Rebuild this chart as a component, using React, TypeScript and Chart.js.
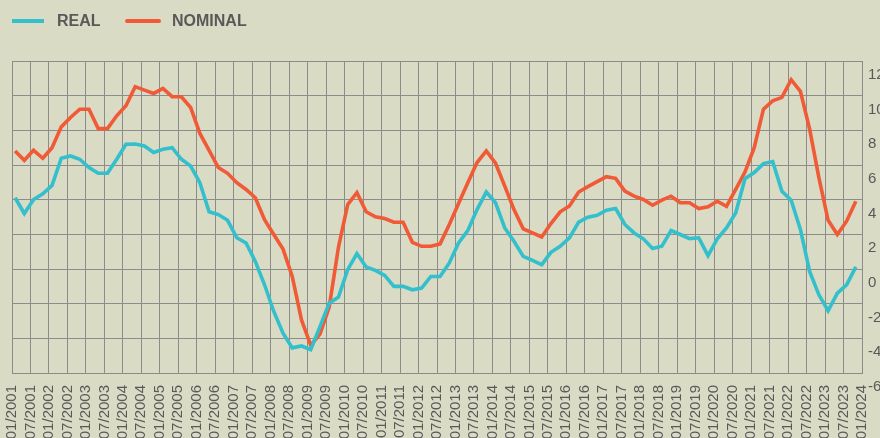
import React, { useEffect, useRef } from "react";
import { Chart, registerables } from "chart.js";

Chart.register(...registerables);

// X-axis tick labels (every half year)
const tickLabels = [
  "01/2001", "07/2001", "01/2002", "07/2002", "01/2003", "07/2003", "01/2004", "07/2004",
  "01/2005", "07/2005", "01/2006", "07/2006", "01/2007", "07/2007", "01/2008", "07/2008",
  "01/2009", "07/2009", "01/2010", "07/2010", "01/2011", "07/2011", "01/2012", "07/2012",
  "01/2013", "07/2013", "01/2014", "07/2014", "01/2015", "07/2015", "01/2016", "07/2016",
  "01/2017", "07/2017", "01/2018", "07/2018", "01/2019", "07/2019", "01/2020", "07/2020",
  "01/2021", "07/2021", "01/2022", "07/2022", "01/2023", "07/2023", "01/2024",
];

// Quarterly observations 2001 Q1 .. 2023 Q4
const pointMonthOffset = 1; // each quarterly point is placed one month into its quarter

const realValues = [
  4.11, 3.2, 4.01, 4.34, 4.82, 6.39, 6.52, 6.33, 5.85, 5.52,
  5.52, 6.33, 7.2, 7.21, 7.1, 6.72, 6.91, 7.0, 6.33, 5.94,
  4.98, 3.3, 3.14, 2.81, 1.8, 1.5, 0.44, -0.91, -2.45, -3.7,
  -4.55, -4.44, -4.65, -3.32, -1.97, -1.62, -0.04, 0.89, 0.12, -0.08,
  -0.37, -1.0, -1.0, -1.2, -1.1, -0.43, -0.43, 0.35, 1.5, 2.22,
  3.43, 4.44, 3.82, 2.37, 1.6, 0.73, 0.5, 0.25, 0.96, 1.31,
  1.8, 2.7, 2.99, 3.1, 3.39, 3.49, 2.57, 2.08, 1.74, 1.18,
  1.31, 2.22, 1.99, 1.75, 1.8, 0.77, 1.74, 2.37, 3.24, 5.21,
  5.56, 6.08, 6.2, 4.49, 3.97, 2.28, -0.14, -1.49, -2.41, -1.39,
  -0.91, 0.12,
];

const nominalValues = [
  6.81, 6.27, 6.85, 6.39, 7.0, 8.2, 8.74, 9.22, 9.22, 8.1,
  8.1, 8.84, 9.42, 10.52, 10.32, 10.13, 10.42, 9.94, 9.94, 9.32,
  7.82, 6.85, 5.85, 5.52, 4.98, 4.59, 4.11, 2.85, 1.99, 1.15,
  -0.43, -2.94, -4.4, -3.75, -2.2, 1.25, 3.72, 4.4, 3.3, 3.01,
  2.91, 2.7, 2.7, 1.54, 1.31, 1.31, 1.45, 2.57, 3.78, 4.98,
  6.14, 6.81, 6.1, 4.78, 3.43, 2.32, 2.08, 1.85, 2.62, 3.3,
  3.64, 4.44, 4.75, 5.04, 5.33, 5.23, 4.49, 4.2, 4.01, 3.68,
  3.97, 4.2, 3.82, 3.82, 3.49, 3.59, 3.91, 3.62, 4.59, 5.59,
  7.0, 9.22, 9.7, 9.9, 10.92, 10.25, 8.07, 5.27, 2.81, 1.99,
  2.76, 3.91,
];

const seriesNames = ["REAL", "NOMINAL"];
const REAL_COLOR = "#33c0cc";
const NOMINAL_COLOR = "#f05a37";
const BG = "#d9dbc4";
const GRID = "#8c8c8c";
const TEXT = "#595959";
const FONT = "'Liberation Sans', Arial, Helvetica, sans-serif";

// x in half-year units since 01/2001
const toPoints = (vals: number[]) =>
  vals.map((v, i) => ({ x: (i * 3 + pointMonthOffset) / 6, y: v }));

const legendPlugin = {
  id: "customLegend",
  afterDraw(chart: any) {
    const ctx = chart.ctx as CanvasRenderingContext2D;
    const items = [
      { text: seriesNames[0], color: REAL_COLOR, x0: 12, x1: 44, tx: 57, cap: "butt" },
      { text: seriesNames[1], color: NOMINAL_COLOR, x0: 127, x1: 159, tx: 172, cap: "round" },
    ];
    ctx.save();
    ctx.font = `bold 16px ${FONT}`;
    ctx.textBaseline = "alphabetic";
    ctx.textAlign = "left";
    items.forEach((it) => {
      ctx.beginPath();
      ctx.strokeStyle = it.color;
      ctx.lineWidth = 4;
      ctx.lineCap = it.cap as CanvasLineCap;
      ctx.moveTo(it.x0, 21);
      ctx.lineTo(it.x1, 21);
      ctx.stroke();
      ctx.fillStyle = TEXT;
      ctx.fillText(it.text, it.tx, 26);
    });
    ctx.restore();
  },
};

export default function App() {
  const ref = useRef<HTMLCanvasElement | null>(null);

  useEffect(() => {
    if (!ref.current) return;
    const chart = new Chart(ref.current, {
      type: "line",
      data: {
        datasets: [
          {
            label: seriesNames[0],
            data: toPoints(realValues),
            borderColor: REAL_COLOR,
            backgroundColor: REAL_COLOR,
            borderWidth: 3.6,
            pointRadius: 0,
            tension: 0,
          },
          {
            label: seriesNames[1],
            data: toPoints(nominalValues),
            borderColor: NOMINAL_COLOR,
            backgroundColor: NOMINAL_COLOR,
            borderWidth: 3.6,
            pointRadius: 0,
            tension: 0,
          },
        ],
      },
      options: {
        responsive: false,
        animation: false,
        devicePixelRatio: 1,
        layout: { padding: { top: 61, left: 12, right: 0, bottom: 0 } },
        plugins: {
          legend: { display: false },
          tooltip: { enabled: false },
        },
        scales: {
          x: {
            type: "linear",
            min: 0,
            max: tickLabels.length - 1,
            afterFit: (s: any) => {
              s.height = 65;
              s.paddingLeft = 0;
              s.paddingRight = 0;
            },
            grid: { color: GRID, lineWidth: 1, drawTicks: false },
            border: { display: true, color: GRID, width: 1 },
            ticks: {
              stepSize: 1,
              autoSkip: false,
              maxRotation: 90,
              minRotation: 90,
              padding: 12,
              color: TEXT,
              font: { family: FONT, size: 15 },
              callback: (_v: any, i: number) => tickLabels[i] ?? "",
            },
          },
          y: {
            position: "right",
            min: -6,
            max: 12,
            afterFit: (s: any) => {
              s.width = 18;
            },
            grid: { color: GRID, lineWidth: 1, drawTicks: false },
            border: { display: true, color: GRID, width: 1 },
            ticks: {
              stepSize: 2,
              padding: 6,
              labelOffset: 14,
              color: TEXT,
              font: { family: FONT, size: 15 },
            },
          },
        },
      },
      plugins: [legendPlugin],
    });
    return () => chart.destroy();
  }, []);

  return (
    <div
      style={{
        position: "fixed",
        left: 0,
        top: 0,
        width: 880,
        height: 438,
        overflow: "hidden",
        background: BG,
      }}
    >
      <canvas ref={ref} width={880} height={438} style={{ display: "block" }} />
    </div>
  );
}
